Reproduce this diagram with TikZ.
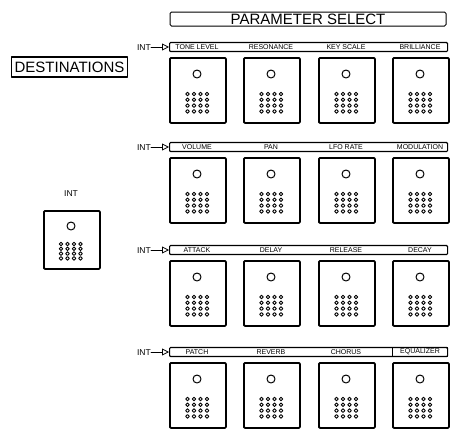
\documentclass[tikz,border=0pt]{standalone}
\usepackage{fontspec}
\setmainfont{Liberation Sans}
\usetikzlibrary{arrows.meta}

\begin{document}
\begin{tikzpicture}[x=1pt, y=-1pt, >={Triangle[open, length=7pt, width=7pt]},
    line cap=round, line join=round,
    padbox/.style={draw, line width=1.8pt, rounded corners=1pt,
                   minimum width=56pt, minimum height=65pt, inner sep=0pt},
    selbar/.style={draw, line width=1.2pt, rounded corners=1pt,
                   minimum width=278pt, minimum height=9pt, inner sep=0pt},
    tag/.style={font=\fontsize{7}{7}\selectfont, inner sep=0pt},
    inttag/.style={font=\fontsize{8.5}{9}\selectfont, inner sep=0pt,
                   text height=6pt, text depth=0pt},
    title/.style={font=\fontsize{15}{16}\selectfont, inner sep=0pt}]
  \useasboundingbox (0,0) rectangle (459,437);

  % Headings
  \node[title, draw, line width=1pt, rounded corners=1.5pt,
        minimum width=276pt, minimum height=14pt] (psel) at (308,19) {PARAMETER SELECT};
  \node[title, draw, line width=1.2pt, inner xsep=3pt,
        minimum height=20pt] (dest) at (69.5,67) {DESTINATIONS};

  % Four rows of parameter pads
  \foreach \r/\y/\la/\lb/\lc/\ld in {
      1/57/TONE LEVEL/RESONANCE/KEY SCALE/BRILLIANCE,
      2/157/VOLUME/PAN/LFO RATE/MODULATION,
      3/260/ATTACK/DELAY/RELEASE/DECAY,
      4/362/PATCH/REVERB/CHORUS/EQUALIZER}{
    \node[selbar, anchor=west] (bar\r) at (169,\y-10) {};
    \node[inttag, anchor=east] (int\r) at (151,\y-10) {INT};
    \draw[->, line width=0.8pt] (int\r.east) -- (bar\r.west);
    \foreach \c/\x/\t in {1/169/\la, 2/243/\lb, 3/318/\lc, 4/392/\ld}{
      \node[tag] (lab\r\c) at (\x+28,\y-10) {\t};
      \node[padbox, anchor=north west] (box\r\c) at (\x,\y) {};
      \draw[line width=1pt] (\x+28,\y+17) circle (4pt);
      \foreach \i in {0,...,3}
        \foreach \j in {0,...,3}
          \draw[line width=0.9pt] (\x+18.5+6.5*\i,\y+37+5.8*\j) circle (1.8pt);
    }
  }

  % Framed last label of the bottom row
  \node[draw, line width=1.3pt, minimum width=55pt, minimum height=9pt,
        inner sep=0pt] (eqframe) at (lab44) {};

  % Single INT pad on the left
  \node[inttag] (intlab) at (71,193) {INT};
  \node[padbox, minimum height=58pt, anchor=north west] (intbox) at (43,210) {};
  \draw[line width=1pt] (71,226) circle (4pt);
  \foreach \i in {0,...,3}
    \foreach \j in {0,...,3}
      \draw[line width=0.9pt] (61+6.5*\i,244+4.8*\j) circle (1.8pt);
\end{tikzpicture}
\end{document}
